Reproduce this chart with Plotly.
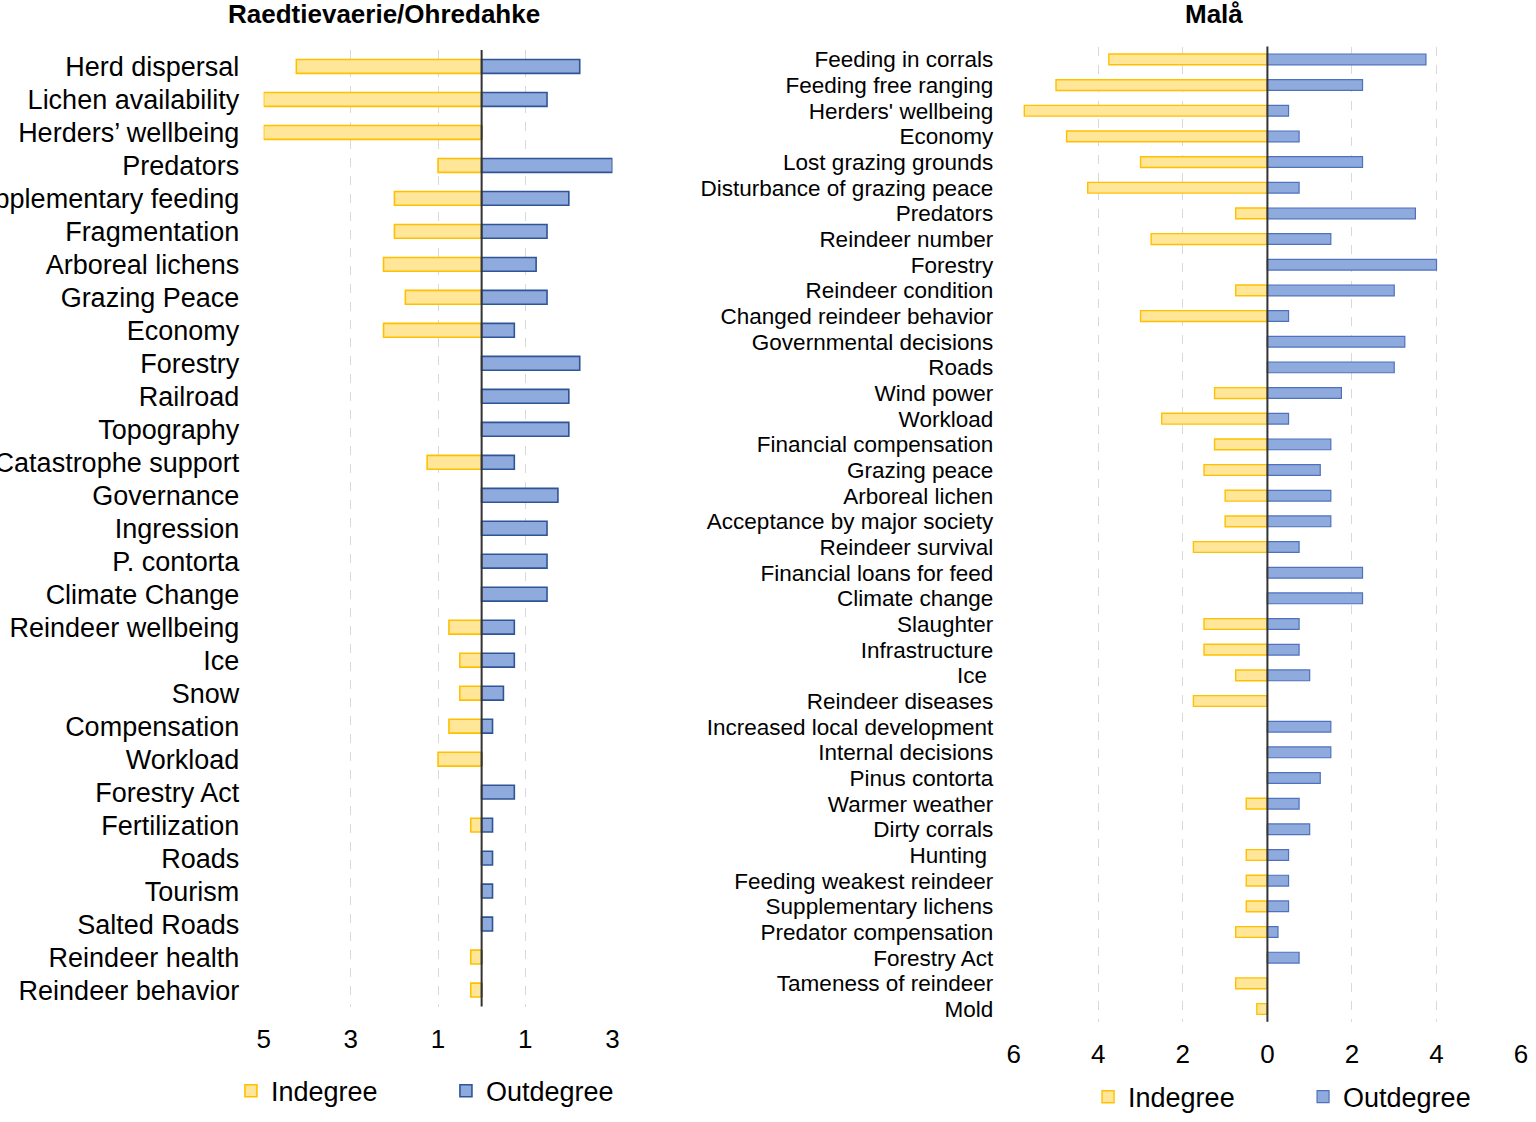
import plotly.graph_objects as go

# ---------------- Data: Raedtievaerie/Ohredahke ----------------
left_categories = [
    "Herd dispersal", "Lichen availability", "Herders’ wellbeing", "Predators",
    "Supplementary feeding", "Fragmentation", "Arboreal lichens", "Grazing Peace",
    "Economy", "Forestry", "Railroad", "Topography", "Catastrophe support",
    "Governance", "Ingression", "P. contorta", "Climate Change",
    "Reindeer wellbeing", "Ice", "Snow", "Compensation", "Workload",
    "Forestry Act", "Fertilization", "Roads", "Tourism", "Salted Roads",
    "Reindeer health", "Reindeer behavior",
]
left_indegree = [4.25, 5, 5, 1, 2, 2, 2.25, 1.75, 2.25, 0, 0, 0, 1.25,
                 0, 0, 0, 0, 0.75, 0.5, 0.5, 0.75, 1, 0, 0.25, 0, 0, 0,
                 0.25, 0.25]
left_outdegree = [2.25, 1.5, 0, 3, 2, 1.5, 1.25, 1.5, 0.75, 2.25, 2, 2, 0.75,
                  1.75, 1.5, 1.5, 1.5, 0.75, 0.75, 0.5, 0.25, 0, 0.75, 0.25,
                  0.25, 0.25, 0.25, 0, 0]
left_tickvals = [-5, -3, -1, 1, 3]
left_ticktext = ["5", "3", "1", "1", "3"]

# ---------------- Data: Malå ----------------
right_categories = [
    "Feeding in corrals", "Feeding free ranging", "Herders' wellbeing", "Economy",
    "Lost grazing grounds", "Disturbance of grazing peace", "Predators",
    "Reindeer number", "Forestry", "Reindeer condition",
    "Changed reindeer behavior", "Governmental decisions", "Roads", "Wind power",
    "Workload", "Financial compensation", "Grazing peace", "Arboreal lichen",
    "Acceptance by major society", "Reindeer survival",
    "Financial loans for feed", "Climate change", "Slaughter", "Infrastructure",
    "Ice\u00a0", "Reindeer diseases", "Increased local development",
    "Internal decisions", "Pinus contorta", "Warmer weather", "Dirty corrals",
    "Hunting\u00a0", "Feeding weakest reindeer", "Supplementary lichens",
    "Predator compensation", "Forestry Act", "Tameness of reindeer", "Mold",
]
right_indegree = [3.75, 5, 5.75, 4.75, 3, 4.25, 0.75, 2.75, 0, 0.75, 3, 0, 0,
                  1.25, 2.5, 1.25, 1.5, 1, 1, 1.75, 0, 0, 1.5, 1.5, 0.75, 1.75,
                  0, 0, 0, 0.5, 0, 0.5, 0.5, 0.5, 0.75, 0, 0.75, 0.25]
right_outdegree = [3.75, 2.25, 0.5, 0.75, 2.25, 0.75, 3.5, 1.5, 4, 3, 0.5,
                   3.25, 3, 1.75, 0.5, 1.5, 1.25, 1.5, 1.5, 0.75, 2.25, 2.25,
                   0.75, 0.75, 1, 0, 1.5, 1.5, 1.25, 0.75, 1, 0.5, 0.5, 0.5,
                   0.25, 0.75, 0, 0]
right_tickvals = [-6, -4, -2, 2, 4, 6, 0]
right_ticktext = ["6", "4", "2", "2", "4", "6", "0"]

# ---------------- Styles ----------------
IN_FILL, IN_LINE = "#FFE699", "#FFC000"
OUT_FILL, OUT_LINE = "#8FAADC", "#2F5597"
FONT = "Liberation Sans, Arial, sans-serif"
BAR_W = 0.42
W, H = 1536, 1122

fig = go.Figure()

fig.add_trace(go.Bar(
    y=left_categories, x=[-v for v in left_indegree], orientation="h",
    name="Indegree", width=BAR_W,
    marker=dict(color=IN_FILL, line=dict(color=IN_LINE, width=1.6)),
    xaxis="x", yaxis="y", legend="legend",
))
fig.add_trace(go.Bar(
    y=left_categories, x=left_outdegree, orientation="h",
    name="Outdegree", width=BAR_W,
    marker=dict(color=OUT_FILL, line=dict(color=OUT_LINE, width=1.6)),
    xaxis="x", yaxis="y", legend="legend",
))
fig.add_trace(go.Bar(
    y=right_categories, x=[-v for v in right_indegree], orientation="h",
    name="Indegree", width=BAR_W,
    marker=dict(color=IN_FILL, line=dict(color=IN_LINE, width=1.4)),
    xaxis="x2", yaxis="y2", legend="legend2",
))
fig.add_trace(go.Bar(
    y=right_categories, x=right_outdegree, orientation="h",
    name="Outdegree", width=BAR_W,
    marker=dict(color=OUT_FILL, line=dict(color="#4F71BE", width=1.2)),
    xaxis="x2", yaxis="y2", legend="legend2",
))

grid = dict(showgrid=True, gridcolor="#D9D9D9", griddash="dash", gridwidth=1,
            zeroline=False,
            ticks="outside", ticklen=9, tickcolor="rgba(0,0,0,0)",
            showline=False, fixedrange=True)

fig.update_layout(
    width=W, height=H,
    margin=dict(l=0, r=0, t=0, b=0),
    paper_bgcolor="white", plot_bgcolor="white",
    barmode="relative",
    font=dict(family=FONT, color="#000000"),
    xaxis=dict(domain=[259 / W, 611 / W], range=[-5, 3],
               tickvals=left_tickvals, ticktext=left_ticktext,
               tickfont=dict(size=26), anchor="y", **grid),
    yaxis=dict(domain=[106.4 / H, 1071.6 / H], autorange="reversed",
               type="category", tickmode="array", tickvals=left_categories,
               showgrid=False, zeroline=False, showline=False,
               ticks="outside", ticklen=18, tickcolor="rgba(0,0,0,0)",
               tickfont=dict(size=27), anchor="x", automargin=False,
               fixedrange=True),
    xaxis2=dict(domain=[1016 / W, 1528 / W], range=[-6, 6],
                tickvals=right_tickvals, ticktext=right_ticktext,
                tickfont=dict(size=26), anchor="y2", **grid),
    yaxis2=dict(domain=[91 / H, 1075 / H], autorange="reversed",
                type="category", tickmode="array", tickvals=right_categories,
                showgrid=False, zeroline=False, showline=False,
                ticks="outside", ticklen=15, tickcolor="rgba(0,0,0,0)",
                tickfont=dict(size=22.5), anchor="x2", automargin=False,
                fixedrange=True),
    legend=dict(orientation="h", x=226 / W, y=21 / H, xanchor="left",
                yanchor="middle", font=dict(size=27), entrywidth=170,
                bgcolor="rgba(0,0,0,0)", traceorder="normal"),
    legend2=dict(orientation="h", x=1091 / W, y=15 / H, xanchor="left",
                 yanchor="middle", font=dict(size=27), entrywidth=170,
                 bgcolor="rgba(0,0,0,0)", traceorder="normal"),
    shapes=[
        dict(type="line", xref="x", yref="y domain", x0=0, x1=0, y0=0, y1=1,
             line=dict(color="#333333", width=2), layer="above"),
        dict(type="line", xref="x2", yref="y2 domain", x0=0, x1=0, y0=0, y1=1,
             line=dict(color="#333333", width=2), layer="above"),
    ],
    annotations=[
        dict(text="<b>Raedtievaerie/Ohredahke</b>", x=380 / W, y=1 - 14 / H,
             xref="paper", yref="paper", xanchor="center", yanchor="middle",
             showarrow=False, font=dict(size=26)),
        dict(text="<b>Malå</b>", x=1218 / W, y=1 - 14 / H,
             xref="paper", yref="paper", xanchor="center", yanchor="middle",
             showarrow=False, font=dict(size=26)),
    ],
    showlegend=True,
)

fig.write_html(
    "out.html",
    config={"displayModeBar": False},
    post_script=(
        "document.documentElement.style.margin='0';"
        "document.body.style.margin='0';"
        "document.body.style.overflow='hidden';"
    ),
)
